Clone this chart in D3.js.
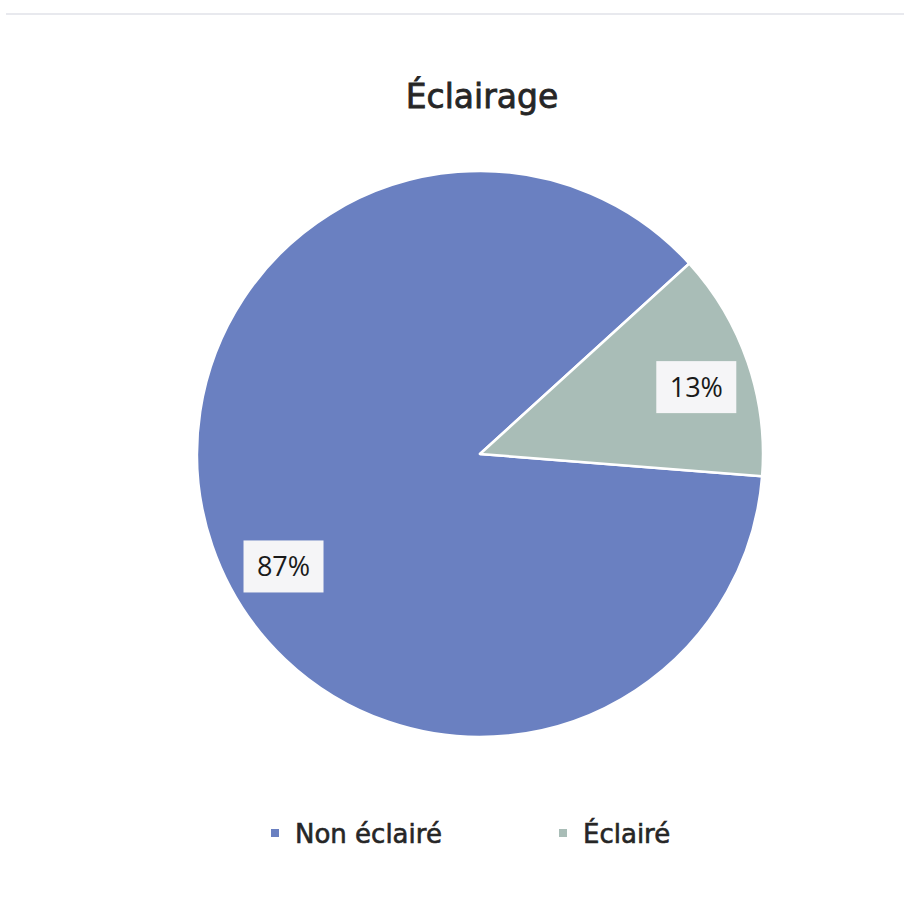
<!DOCTYPE html>
<html><head><meta charset="utf-8">
<script src="https://cdn.jsdelivr.net/npm/d3@7"></script>
<style>html,body{margin:0;padding:0;background:#fff;}</style>
</head><body>
<svg id="chart" width="904" height="905"></svg>
<script>
const categories = ["Non éclairé", "Éclairé"];
const values = [87, 13];
const labels = ["87%", "13%"];
const colors = ["#6a80c1", "#a9bdb7"];
const title = "Éclairage";

const svg = d3.select("#chart");
const W = 904, H = 905;
const cx = 480, cy = 454, R = 283;
const rotation = 94.5 * Math.PI / 180;

svg.append("rect").attr("width", W).attr("height", H).attr("fill", "#fff");
svg.append("line").attr("x1", 6).attr("x2", W).attr("y1", 14).attr("y2", 14)
  .attr("stroke", "#e8e9ee").attr("stroke-width", 2);

svg.append("text").attr("x", 482).attr("y", 108).attr("text-anchor", "middle")
  .attr("font-family", "'DejaVu Sans', sans-serif").attr("font-size", 33)
  .attr("stroke", "#262626").attr("stroke-width", 0.8)
  .attr("fill", "#262626").text(title);

const data = categories.map((c, i) => ({cat: c, value: values[i], label: labels[i], color: colors[i]}));
const pie = d3.pie().value(d => d.value).sort(null)
  .startAngle(rotation).endAngle(rotation + 2 * Math.PI);
const arcs = pie(data);
const arc = d3.arc().innerRadius(0).outerRadius(R);
const g = svg.append("g").attr("transform", `translate(${cx},${cy})`);
g.selectAll("path").data(arcs).join("path")
  .attr("d", arc).attr("fill", d => d.data.color)
  .attr("stroke", "#fff").attr("stroke-width", 2.5).attr("stroke-linejoin", "round");

// labels (bestfit-like positioning along 0.8R)
const labelShift = [-0.19, 0.03];
arcs.forEach((a, i) => {
  const mid = (a.startAngle + a.endAngle) / 2 + labelShift[i];
  const r = 0.8 * R;
  const x = r * Math.sin(mid), y = -r * Math.cos(mid);
  const lg = g.append("g").attr("transform", `translate(${x},${y})`);
  lg.append("rect").attr("x", -40).attr("y", -26).attr("width", 80).attr("height", 52)
    .attr("fill", "#f5f5f7");
  lg.append("text").attr("text-anchor", "middle").attr("dy", "0.36em")
    .attr("font-family", "'Open Sans', sans-serif").attr("font-size", 27)
    .attr("fill", "#1a1a1a").text(a.data.label);
});

// legend
const legendX = [271, 559];
const lgd = svg.append("g");
data.forEach((d, i) => {
  lgd.append("rect").attr("x", legendX[i]).attr("y", 829).attr("width", 8).attr("height", 8)
    .attr("fill", d.color);
  lgd.append("text").attr("x", legendX[i] + 24).attr("y", 843)
    .attr("font-family", "'DejaVu Sans', sans-serif").attr("font-size", 26)
    .attr("stroke", "#262626").attr("stroke-width", 0.6)
    .attr("fill", "#262626").text(d.cat);
});
</script>
</body></html>
